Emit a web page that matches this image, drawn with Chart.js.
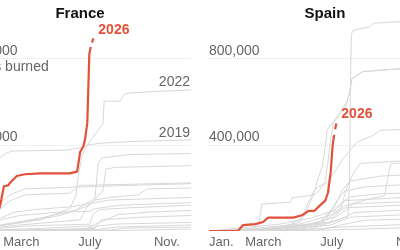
<!DOCTYPE html>
<html>
<head>
<meta charset="utf-8">
<script src="https://cdn.jsdelivr.net/npm/chart.js@4"></script>
<style>
  html, body { margin: 0; padding: 0; width: 400px; height: 250px; overflow: hidden; background: #fff; }
  body { position: relative; font-family: "Liberation Sans", Arial, sans-serif; }
  canvas { position: absolute; top: 0; }
  #france { left: -40px; }
  #spain { left: 200px; }
  .title { position: absolute; top: 4px; font-weight: bold; font-size: 15px; color: #121212;
           transform: translateX(-50%); white-space: nowrap; }
</style>
</head>
<body>
<canvas id="france" width="240" height="250"></canvas>
<canvas id="spain" width="240" height="250"></canvas>
<div class="title" style="left:80px">France</div>
<div class="title" style="left:325px">Spain</div>
<script>
// x = day of year, y = cumulative thousands of acres burned
const monthDays = [0, 59, 181, 304];
const monthLabels = ["Jan.", "March", "July", "Nov."];

const franceTicks = [100, 200];
const franceTickLabels = [["100,000", ""], ["200,000", "acres burned"]];
const spainTicks = [400, 800];
const spainTickLabels = [["400,000", ""], ["800,000", ""]];

// France
const france2026 = [[0,0],[20,3],[40,10],[48,16],[54,30],[60,52],[67,53],[70,56],[81,64],[94,66],[119,67],
  [167,67],[179,69],[184,92],[189,98],[192,107],[193.5,115],[195.6,126],[198.9,206],[201.2,214]];
const france2026Latest = [[203.3,219],[205.4,224]];
const france2022 = [[0,0],[54,6],[119,13],[167,26],[177,41],[182,69],[188,90],[197,101],[211,115],[221,125],
  [223,151],[249,151],[257,160],[297,162],[365,164]];
const france2019 = [[0,0],[21,18],[37,47],[54,86],[62,90],[73,93],[163,94],[184,97],[195,100],[216,102],
  [265,104],[365,106]];
const franceOtherYears = [
  [[0,0],[54,7],[119,15],[176,24],[208,38],[213,78],[219,85],[265,89],[365,90]],
  [[0,0],[54,6],[151,18],[200,30],[221,47],[226,72],[241,74],[365,76]],
  [[0,0],[37,7],[54,26],[70,35],[94,42],[167,44],[180,51],[216,52],[365,55]],
  [[0,0],[37,10],[54,33],[70,42],[94,49],[176,51],[184,53],[365,56]],
  [[0,0],[86,7],[184,13],[197,30],[208,36],[232,39],[278,42],[293,49],[365,50]],
  [[0,0],[54,15],[78,22],[111,25],[167,28],[200,32],[232,36],[365,39]],
  [[0,0],[54,13],[86,18],[151,22],[200,23],[208,26],[249,30],[365,33]],
  [[0,0],[102,6],[200,8],[205,20],[216,25],[265,27],[365,30]],
  [[0,0],[119,3],[203,6],[216,10],[245,19],[297,22],[365,24]],
  [[0,0],[151,2],[208,3],[218,13],[281,16],[365,18]],
  [[0,0],[184,2],[216,6],[241,8],[365,10]],
  [[0,0],[216,2],[241,4.5],[365,7]],
  [[0,0],[232,1],[257,3.4],[365,4.5]],
  [[0,0],[249,0.6],[365,2.3]]
];

// Spain
const spain2026 = [[0,0],[47,0],[55,27],[75,32],[88,42],[96,62],[137,62],[151,73],[161,92],[172,95],
  [180,118],[189,141],[193.5,179],[198,277],[201,399],[203.5,447]];
const spain2026Latest = [[205,473],[207,500]];
const spain2025 = [[0,0],[83,9],[148,27],[197,41],[226,68],[228.5,232],[230,686],[231.5,914],[234,934],
  [262,950],[267,966],[311,974],[365,982]];
const spain2022 = [[0,0],[67,9],[81,23],[83,73],[86,125],[132,134],[135,155],[172,168],[180,191],[189,232],
  [193.5,323],[197,414],[202,505],[210,541],[218,573],[224,600],[229,650],[232.5,709],[250,741],[289,750],[365,768]];
const spainOtherYears = [
  [[0,0],[99,9],[148,41],[159,118],[169,177],[177,205],[192,223],[202,264],[218,336],[241,414],[267,445],[278,468],[365,477]],
  [[0,0],[124,14],[156,73],[169,164],[177,241],[184,300],[189,391],[192,468],[198,495],[206.5,518],[215,550],
   [223,582],[229,650],[232.5,709],[250,741],[289,750],[365,768]],
  [[0,0],[115,9],[180,32],[213,96],[224,200],[234,264],[245.5,314],[365,336]],
  [[0,0],[83,14],[148,32],[197,73],[221,118],[262,150],[286,164],[291,255],[296,314],[365,327]],
  [[0,0],[115,9],[180,41],[205,118],[216,186],[229,232],[278,255],[365,268]],
  [[0,0],[148,14],[189,50],[208,141],[221,186],[254,205],[365,223]],
  [[0,0],[132,14],[180,41],[210,118],[229,159],[278,173],[365,182]],
  [[0,0],[50,14],[115,32],[164,59],[205,96],[221,141],[311,155],[365,159]],
  [[0,0],[148,9],[197,41],[213,96],[237,127],[365,141]],
  [[0,0],[83,9],[156,27],[205,64],[229,109],[365,127]],
  [[0,0],[164,9],[210,50],[237,86],[365,105]],
  [[0,0],[132,9],[197,27],[229,64],[365,82]],
  [[0,0],[180,4.5],[221,32],[254,50],[365,59]],
  [[0,0],[148,4.5],[213,18],[365,36]],
  [[0,0],[197,4.5],[245.5,9],[365,18]]
];

const RED = "#e4513a";
const GRAY = "#d8d8d8";
const FONT = "'Liberation Sans', Arial, sans-serif";

function toXY(series) {
  return series.map((p) => ({ x: p[0], y: p[1] }));
}

// label next to the last point of a dataset
const endLabels = {
  id: "endLabels",
  afterDatasetsDraw(chart, args, opts) {
    const ctx = chart.ctx;
    opts.items.forEach((item) => {
      const pts = chart.getDatasetMeta(item.dataset).data;
      const last = pts[pts.length - 1];
      ctx.save();
      ctx.font = item.font;
      ctx.fillStyle = item.color;
      ctx.textAlign = item.align;
      ctx.textBaseline = "middle";
      ctx.fillText(item.text, last.x + item.dx, last.y + item.dy);
      ctx.restore();
    });
  },
};

function drawPanel(id, current, latest, named, others, yMax, ticks, tickLabels, padding, labels) {
  const datasets = [
    { data: toXY(current), borderColor: RED, borderWidth: 2.2 },
    { data: toXY(latest), borderColor: RED, borderWidth: 2.2 },
  ];
  named.concat(others).forEach((s) => {
    datasets.push({ data: toXY(s), borderColor: GRAY, borderWidth: 1 });
  });

  new Chart(document.getElementById(id), {
    type: "line",
    data: { datasets },
    options: {
      responsive: false,
      animation: false,
      devicePixelRatio: 1,
      layout: { padding },
      elements: { point: { radius: 0 }, line: { tension: 0, borderJoinStyle: "round" } },
      plugins: {
        legend: { display: false },
        tooltip: { enabled: false },
        endLabels: { items: labels },
      },
      scales: {
        x: {
          type: "linear",
          min: 0,
          max: 365,
          grid: { display: false, drawTicks: false },
          border: { display: false },
          afterBuildTicks: (s) => { s.ticks = monthDays.map((v) => ({ value: v })); },
          afterFit: (s) => { s.height = 19; },
          ticks: {
            align: "start",
            padding: 4,
            maxRotation: 0,
            autoSkip: false,
            color: "#666",
            font: { size: 13, family: FONT },
            callback: (v, i) => monthLabels[i],
          },
        },
        y: {
          min: 0,
          max: yMax,
          afterBuildTicks: (s) => { s.ticks = ticks.map((v) => ({ value: v })); },
          afterFit: (s) => { s.width = 0; },
          grid: { color: "#e2e2e2", drawTicks: false },
          border: { display: false, dash: [1, 1] },
          ticks: {
            mirror: true,
            padding: 0,
            color: "#666",
            font: { size: 14, family: FONT, lineHeight: "16px" },
            callback: (v, i) => tickLabels[i],
          },
        },
      },
    },
    plugins: [endLabels],
  });
}

drawPanel("france", france2026, france2026Latest, [france2022, france2019], franceOtherYears,
  250, franceTicks, franceTickLabels, { left: 7, right: 8.5, top: 12, bottom: 0 },
  [
    { dataset: 1, text: "2026", color: RED, font: "bold 14px " + FONT, align: "left", dx: 5, dy: -8 },
    { dataset: 2, text: "2022", color: "#666", font: "14px " + FONT, align: "right", dx: -1.5, dy: -8 },
    { dataset: 3, text: "2019", color: "#666", font: "14px " + FONT, align: "right", dx: -1.5, dy: -7 },
  ]);

drawPanel("spain", spain2026, spain2026Latest, [spain2025, spain2022], spainOtherYears,
  1000, spainTicks, spainTickLabels, { left: 9, right: 6.5, top: 11, bottom: 0 },
  [
    { dataset: 1, text: "2026", color: RED, font: "bold 14px " + FONT, align: "left", dx: 5, dy: -9 },
  ]);
</script>
</body>
</html>
